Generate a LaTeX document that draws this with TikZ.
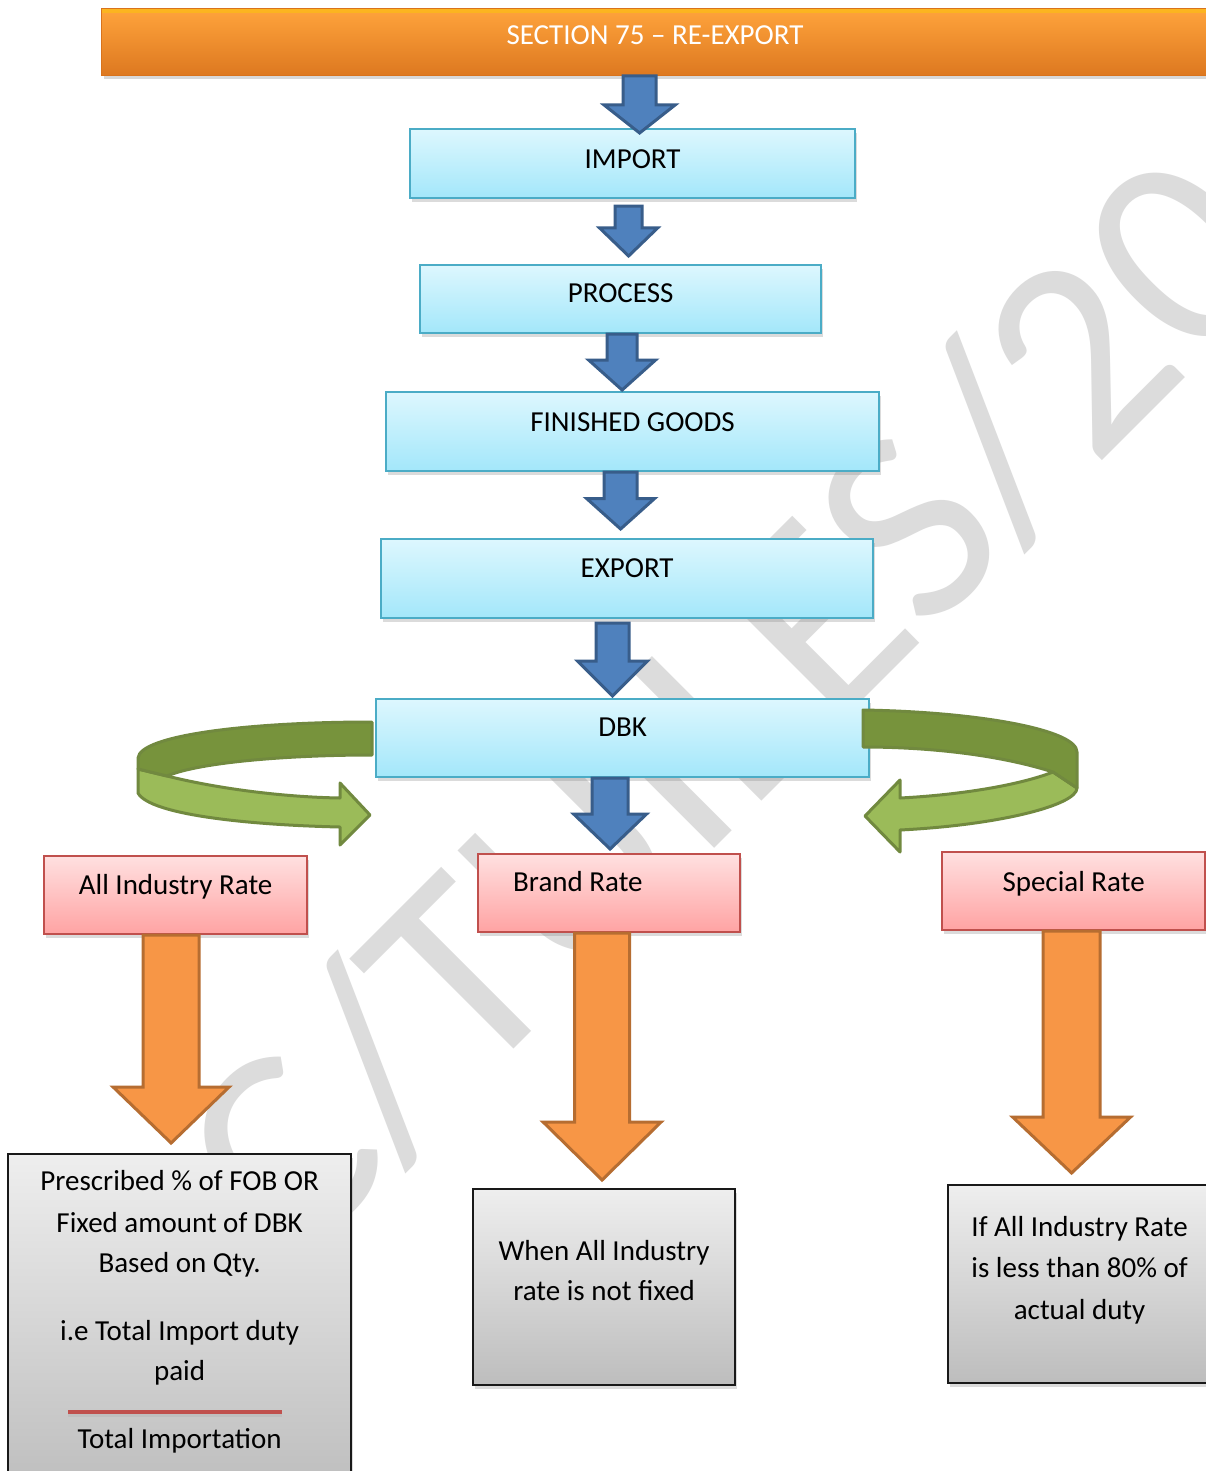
\documentclass[tikz,border=0pt]{standalone}
\usepackage{fontspec}
\setmainfont{Carlito}
\usetikzlibrary{calc,shadows}
\definecolor{bluetop}{HTML}{DDF7FE}
\definecolor{bluebot}{HTML}{A3E7FA}
\definecolor{blueline}{HTML}{4BACC6}
\definecolor{pinktop}{HTML}{FFE0E0}
\definecolor{pinkbot}{HTML}{FFA3A3}
\definecolor{pinkline}{HTML}{C0504D}
\definecolor{graytop}{HTML}{EEEEEE}
\definecolor{graybot}{HTML}{BDBDBD}
\definecolor{arrblue}{HTML}{4F81BD}
\definecolor{arrblueline}{HTML}{385D8A}
\definecolor{arrorange}{HTML}{F79646}
\definecolor{arrorangeline}{HTML}{B66D31}
\definecolor{greendark}{HTML}{77933C}
\definecolor{greenlight}{HTML}{9BBB59}
\definecolor{greenline}{HTML}{71893F}
\definecolor{bantop}{HTML}{FFA43C}
\definecolor{banmid}{HTML}{F8922E}
\definecolor{banbot}{HTML}{DD7820}
\definecolor{banline}{HTML}{D8731C}
\definecolor{wmgray}{HTML}{DCDCDC}
\newcommand\vblock[6]{\draw[#1] let \p1=#2, \p2=#3 in
  (\x2-#4,\y1) -- (\x2+#4,\y1) -- (\x2+#4,\y2+#6) -- (\x2+#5,\y2+#6) --
  (\x2,\y2) -- (\x2-#5,\y2+#6) -- (\x2-#4,\y2+#6) -- cycle;}
\begin{document}
\begin{tikzpicture}[x=1pt,y=-1pt,
  boxbase/.style={anchor=north west, inner sep=0pt, line width=2.2pt,
    drop shadow={shadow xshift=2pt, shadow yshift=-4pt, opacity=0.28}},
  bluebox/.style={boxbase, draw=blueline, top color=bluetop, bottom color=bluebot},
  pinkbox/.style={boxbase, draw=pinkline, top color=pinktop, bottom color=pinkbot},
  graybox/.style={boxbase, draw=black!90, top color=graytop, bottom color=graybot},
  banner/.style={anchor=north west, inner sep=0pt, draw=banline, line width=1pt,
    top color=bantop, middle color=banmid, bottom color=banbot,
    drop shadow={shadow xshift=2pt, shadow yshift=-4pt, opacity=0.3}},
  txt/.style={anchor=base, inner sep=0pt, font=\fontsize{29}{41}\selectfont},
  bluearr/.style={fill=arrblue, draw=arrblueline, line width=3pt, line join=miter},
  orangearr/.style={fill=arrorange, draw=arrorangeline, line width=3pt, line join=miter},
  greendk/.style={fill=greendark, draw=greenline, line width=3pt, line join=round},
  greenlt/.style={fill=greenlight, draw=greenline, line width=3pt, line join=round}]
\useasboundingbox (0,0) rectangle (1206,1471);
\fill[white] (0,0) rectangle (1206,1471);
% watermark
\node[rotate=45, anchor=base west, inner sep=0pt, text=wmgray,
  font=\fontsize{280}{280}\selectfont] (wm) at (202,1361) {SC/TUILES/20};
% banner
\node[banner, minimum width=1110pt, minimum height=67pt] (ban) at (101,8) {};
\fill[yellow!60!orange, opacity=0.5] (102,9) rectangle (1211,13);
\node[txt, text=white] (bant) at (655,44.5) {SECTION 75 \textendash{} RE-EXPORT};
% blue boxes
\node[bluebox, minimum width=445pt, minimum height=69pt] (imp) at (409,128) {};
\node[bluebox, minimum width=401pt, minimum height=68pt] (proc) at (419,264) {};
\node[bluebox, minimum width=493pt, minimum height=79pt] (fg) at (385,391) {};
\node[bluebox, minimum width=492pt, minimum height=79pt] (exp) at (380,538) {};
\node[bluebox, minimum width=493pt, minimum height=78pt] (dbk) at (375,698) {};
\node[txt] (impt) at ($(imp.north)+(0,41)$) {IMPORT};
\node[txt] (proct) at ($(proc.north)+(0,38)$) {PROCESS};
\node[txt] (fgt) at ($(fg.north)+(0,40)$) {FINISHED GOODS};
\node[txt] (expt) at ($(exp.north)+(0,39)$) {EXPORT};
\node[txt] (dbkt) at ($(dbk.north)+(0,38)$) {DBK};
% pink boxes
\node[pinkbox, minimum width=263pt, minimum height=78pt] (air) at (43,855) {};
\node[pinkbox, minimum width=262pt, minimum height=78pt] (brand) at (477,853) {};
\node[pinkbox, minimum width=263pt, minimum height=78pt] (spec) at (941,851) {};
\node[txt] (airt) at ($(air.north)+(0,39)$) {All Industry Rate};
\node[txt, anchor=base west] (brandt) at ($(brand.north west)+(36,38)$) {Brand Rate};
\node[txt] (spect) at ($(spec.north)+(0,40)$) {Special Rate};
% gray boxes
\node[graybox, minimum width=343pt, minimum height=340pt] (gl) at (7,1153) {};
\node[graybox, minimum width=262pt, minimum height=196pt] (gm) at (472,1188) {};
\node[graybox, minimum width=263pt, minimum height=198pt] (gr) at (947,1184) {};
\node[txt] (gl1) at ($(gl.north)+(0,37)$) {Prescribed \% of FOB OR};
\node[txt] (gl2) at ($(gl.north)+(0,79)$) {Fixed amount of DBK};
\node[txt] (gl3) at ($(gl.north)+(0,119)$) {Based on Qty.};
\node[txt] (gl4) at ($(gl.north)+(0,187)$) {i.e Total Import duty};
\node[txt] (gl5) at ($(gl.north)+(0,227)$) {paid};
\node[txt] (gl6) at ($(gl.north)+(0,295)$) {Total Importation};
\coordinate (rl1) at (68,1412);
\coordinate (rl2) at (282,1412);
\draw[black!25, line width=3pt] ([yshift=-3pt]rl1) -- ([yshift=-3pt]rl2);
\draw[pinkline, line width=4.5pt] (rl1) -- (rl2);
\node[txt] (gm1) at ($(gm.north)+(0,72)$) {When All Industry};
\node[txt] (gm2) at ($(gm.north)+(0,112)$) {rate is not fixed};
\node[txt] (gr1) at ($(gr.north)+(0,52)$) {If All Industry Rate};
\node[txt] (gr2) at ($(gr.north)+(0,93)$) {is less than 80\% of};
\node[txt] (gr3) at ($(gr.north)+(0,135)$) {actual duty};
% blue block arrows
\vblock{bluearr}{(ban.south)}{([xshift=7pt,yshift=-5pt]imp.north)}{16.5pt}{35.5pt}{28pt}
\vblock{bluearr}{([yshift=-7pt]imp.south)}{([xshift=8pt,yshift=8pt]proc.north)}{13.5pt}{29pt}{28pt}
\vblock{bluearr}{(proc.south)}{([xshift=-10.5pt,yshift=1pt]fg.north)}{15pt}{33.5pt}{30pt}
\vblock{bluearr}{(fg.south)}{([xshift=-6.5pt,yshift=9pt]exp.north)}{16.5pt}{34pt}{30.5pt}
\vblock{bluearr}{([yshift=-4pt]exp.south)}{([xshift=-10pt,yshift=2pt]dbk.north)}{16.5pt}{35pt}{35pt}
\vblock{bluearr}{(dbk.south)}{([xshift=1pt,yshift=4pt]brand.north)}{18pt}{36.5pt}{35pt}
% orange block arrows
\vblock{orangearr}{(air.south)}{([xshift=-8.5pt,yshift=10pt]gl.north)}{28pt}{58pt}{56pt}
\vblock{orangearr}{(brand.south)}{([xshift=-2pt,yshift=8pt]gm.north)}{27.5pt}{59pt}{58pt}
\vblock{orangearr}{(spec.south)}{([xshift=-8pt,yshift=11pt]gr.north)}{28.5pt}{59pt}{56pt}
% green curved arrows (left)
\draw[greenlt] (138,769) -- (167,776) .. controls (215,788) and (280,797) .. (340,798)
  -- (340,783) -- (370,815) -- (340,845) -- (340,827)
  .. controls (250,825) and (150,815) .. (138,793) -- cycle;
\draw[greendk] (372,722) .. controls (250,722) and (140,735) .. (138,758)
  -- (138,769) -- (167,776) .. controls (200,762) and (290,755) .. (372,755) -- cycle;
% green curved arrows (right)
\draw[greenlt] (1053,772) -- (1077,788) .. controls (1077,805) and (1000,825) .. (900,830)
  -- (900,852) -- (865,816) -- (900,780) -- (900,798)
  .. controls (960,795) and (1020,785) .. (1053,772) -- cycle;
\draw[greendk] (863,710) .. controls (980,712) and (1077,730) .. (1077,752)
  -- (1077,788) -- (1053,772) .. controls (1000,755) and (930,747) .. (863,747) -- cycle;
\end{tikzpicture}
\end{document}
